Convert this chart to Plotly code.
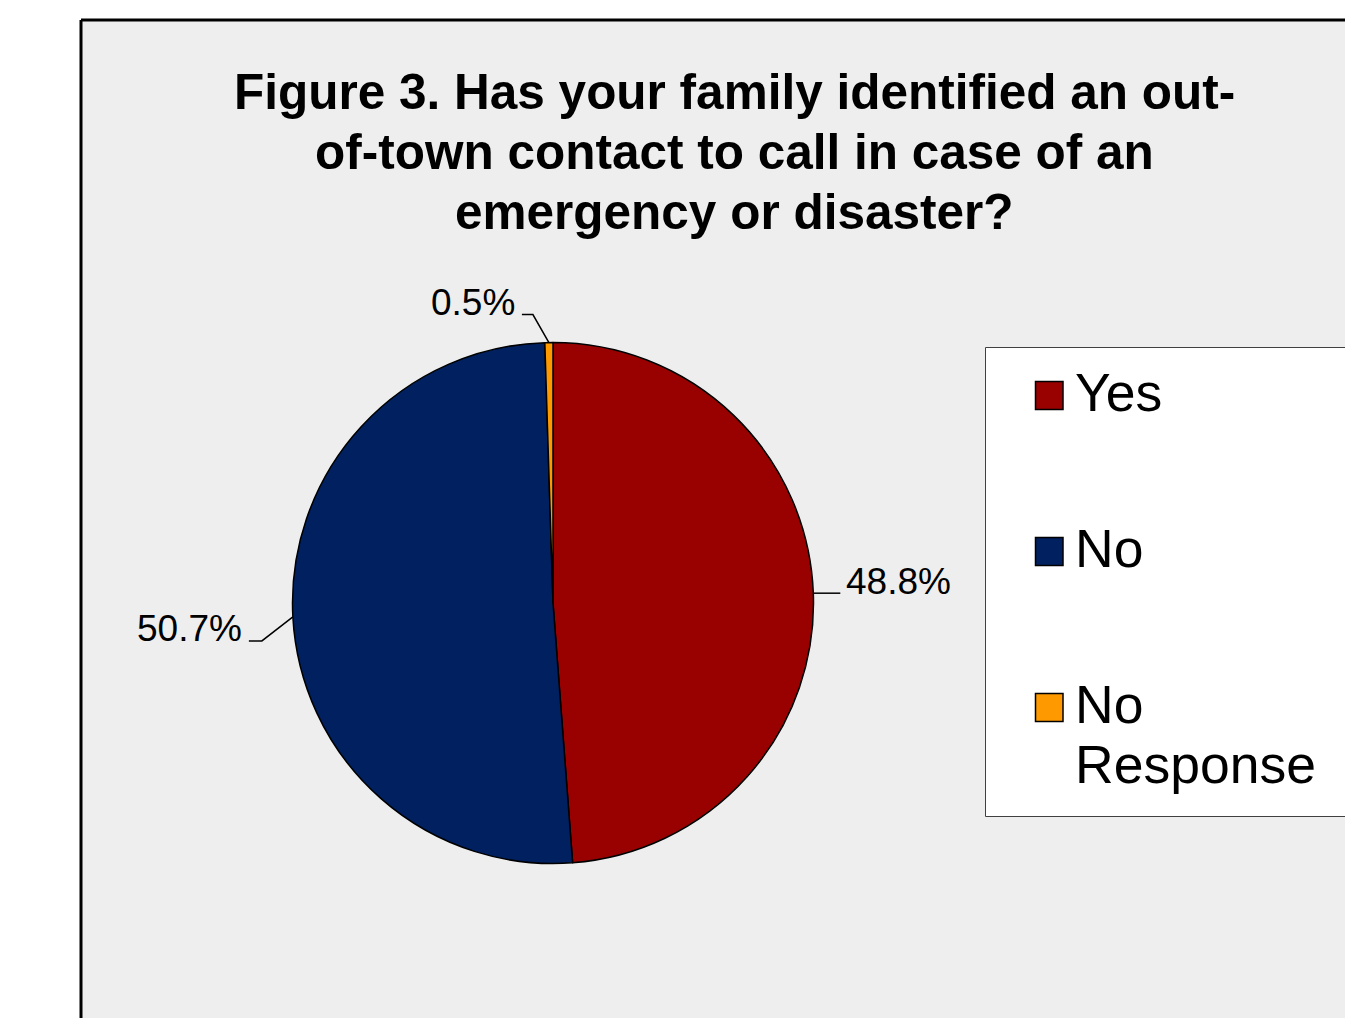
import math
import plotly.graph_objects as go

W, H = 1345, 1018

# ---- data ----
categories = ["Yes", "No", "No Response"]
values = [48.8, 50.7, 0.5]
colors = ["#990000", "#002060", "#FF9900"]
title_lines = [
    "Figure 3. Has your family identified an out-",
    "of-town contact to call in case of an",
    "emergency or disaster?",
]

FONT = "Liberation Sans, Arial, Helvetica, sans-serif"


def px(x):
    return x / W


def py(y):
    return 1 - y / H


# ---- layout geometry (pixels) ----
CX, CY, R = 553, 603, 260.5
LABEL_SIZE = 37
LEGEND_SIZE = 53.5
TITLE_SIZE = 49.5
FAR_X, FAR_Y = 1500, 1200
# per-slice leader layout: (kink dx, kink dy, side, horizontal length)
leader_layout = [(0, 0, 1, 27), (-31, 24, -1, 13), (-16, -28, -1, 11)]

fig = go.Figure(
    go.Pie(
        labels=categories,
        values=values,
        sort=False,
        direction="clockwise",
        rotation=0,
        marker=dict(colors=colors, line=dict(color="black", width=1.5)),
        textinfo="none",
        hoverinfo="label+percent",
        showlegend=False,
        domain=dict(x=[px(CX - R), px(CX + R)], y=[py(CY + R), py(CY - R)]),
    )
)

shapes = []
annotations = []


def seg(x0, y0, x1, y1, color="black", width=1.0):
    return dict(type="line", xref="paper", yref="paper",
                x0=px(x0), y0=py(y0), x1=px(x1), y1=py(y1),
                line=dict(color=color, width=width), layer="below")


# outer frame (runs off the right and bottom edges)
shapes.append(dict(type="rect", xref="paper", yref="paper",
                   x0=px(81), y0=py(20), x1=px(FAR_X), y1=py(FAR_Y),
                   fillcolor="#EEEEEE", line=dict(width=0), layer="below"))
shapes.append(seg(81, 20, FAR_X, 20, width=3))
shapes.append(seg(81, 20, 81, FAR_Y, width=3))

# title
for i, line in enumerate(title_lines):
    baseline = 109 + 60 * i
    annotations.append(dict(xref="paper", yref="paper", x=px(734), y=py(baseline - 0.35 * TITLE_SIZE),
                            xanchor="center", yanchor="middle", showarrow=False, text=line,
                            font=dict(family=FONT, size=TITLE_SIZE, color="black", weight="bold")))

# pie labels with leader lines
total = sum(values)
cum = 0
for v, (kdx, kdy, side, hlen) in zip(values, leader_layout):
    theta = 2 * math.pi * (cum + v / 2) / total
    cum += v
    ax = CX + R * math.sin(theta)
    ay = CY - R * math.cos(theta)
    kx, ky = ax + kdx, ay + kdy
    ex = kx + side * hlen
    shapes.append(dict(type="path", xref="paper", yref="paper",
                       path=f"M {px(ax)},{py(ay)} L {px(kx)},{py(ky)} L {px(ex)},{py(ky)}",
                       line=dict(color="black", width=1.5)))
    tx = ex + (4 if side > 0 else -5)
    baseline = ky + 1
    annotations.append(dict(xref="paper", yref="paper", x=px(tx), y=py(baseline - 0.35 * LABEL_SIZE),
                            xanchor="left" if side > 0 else "right", yanchor="middle",
                            showarrow=False, text=f"{v / total * 100:.1f}%",
                            font=dict(family=FONT, size=LABEL_SIZE, color="black")))

# legend box (runs off the right edge)
LX0, LY0, LY1 = 985.5, 347.5, 816.5
shapes.append(dict(type="rect", xref="paper", yref="paper",
                   x0=px(LX0), y0=py(LY0), x1=px(FAR_X), y1=py(LY1),
                   fillcolor="white", line=dict(width=0), layer="below"))
shapes.append(seg(LX0, LY0, FAR_X, LY0, color="#404040"))
shapes.append(seg(LX0, LY1, FAR_X, LY1, color="#404040"))
shapes.append(seg(LX0, LY0, LX0, LY1, color="#404040"))

for i, (cat, col) in enumerate(zip(categories, colors)):
    cy = 395.5 + 156 * i
    shapes.append(dict(type="rect", xref="paper", yref="paper",
                       x0=px(1035.5), x1=px(1063), y0=py(cy - 14), y1=py(cy + 14),
                       fillcolor=col, line=dict(color="black", width=1.5)))
    for j, word in enumerate(cat.split(" ")):
        baseline = cy + 16 + 60 * j
        annotations.append(dict(xref="paper", yref="paper", x=px(1073), y=py(baseline - 0.35 * LEGEND_SIZE),
                                xanchor="left", yanchor="middle", showarrow=False, text=word,
                                font=dict(family=FONT, size=LEGEND_SIZE, color="black")))

fig.update_layout(
    width=W, height=H,
    margin=dict(l=0, r=0, t=0, b=0),
    paper_bgcolor="white",
    plot_bgcolor="white",
    shapes=shapes,
    annotations=annotations,
    showlegend=False,
)

fig.write_html(
    "out.html",
    config={"displayModeBar": False},
    post_script="document.body.style.margin='0';document.body.style.overflow='hidden';",
)
